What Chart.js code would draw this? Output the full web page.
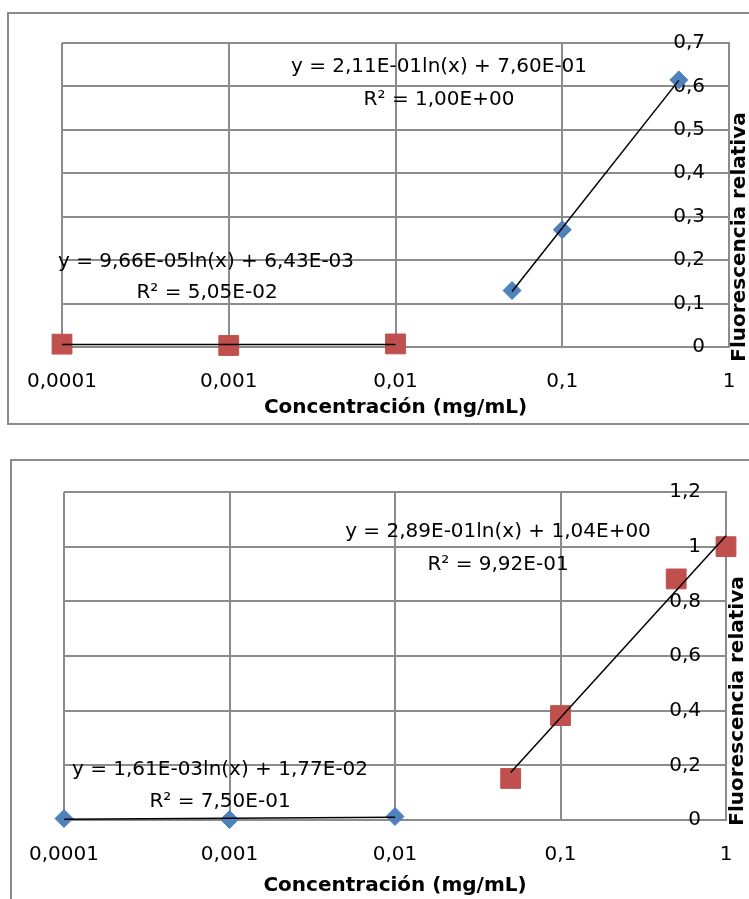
<!DOCTYPE html>
<html lang="es">
<head>
<meta charset="UTF-8">
<title>Fluorescencia relativa</title>
<script src="https://cdn.jsdelivr.net/npm/chart.js@4.4.0/dist/chart.umd.min.js"></script>
<style>
    body { margin: 0; width: 749px; height: 899px; overflow: hidden; background: #fff; position: relative; }
    .box { position: absolute; border: 2px solid #8a8a8a; box-sizing: border-box; }
    canvas { position: absolute; left: 0; }
</style>
</head>
<body>
<div class="box" style="left:7px;top:12px;width:800px;height:413px"></div>
<div class="box" style="left:10px;top:459px;width:800px;height:600px"></div>
<canvas id="chart1" width="749" height="440" style="top:0"></canvas>
<canvas id="chart2" width="749" height="449" style="top:450px"></canvas>
<script>
// ejes
const xTicks = [0.0001, 0.001, 0.01, 0.1, 1];
const xTickLabels = ['0,0001', '0,001', '0,01', '0,1', '1'];

// grafico 1
const conc1Blue = [0.05, 0.1, 0.5];
const fluor1Blue = [0.130, 0.270, 0.615];
const conc1Red = [0.0001, 0.001, 0.01];
const fluor1Red = [0.0066, 0.0035, 0.0071];
const trend1BlueX = [0.05, 0.5];
const trend1BlueY = [0.128, 0.614];
const trend1RedX = [0.0001, 0.01];
const trend1RedY = [0.0055, 0.0060];
const eq1 = ['y = 2,11E-01ln(x) + 7,60E-01', 'R² = 1,00E+00', 'y = 9,66E-05ln(x) + 6,43E-03', 'R² = 5,05E-02'];

// grafico 2
const conc2Blue = [0.0001, 0.001, 0.01];
const fluor2Blue = [0.0054, 0.0017, 0.0128];
const conc2Red = [0.05, 0.1, 0.5, 1];
const fluor2Red = [0.152, 0.382, 0.882, 1.0];
const trend2RedX = [0.05, 1];
const trend2RedY = [0.174, 1.04];
const trend2BlueX = [0.0001, 0.01];
const trend2BlueY = [0.0029, 0.0103];
const eq2 = ['y = 2,89E-01ln(x) + 1,04E+00', 'R² = 9,92E-01', 'y = 1,61E-03ln(x) + 1,77E-02', 'R² = 7,50E-01'];

const BLUE = '#4F81BD', RED = '#C0504D', GRID = '#8c8c8c';

Chart.defaults.font.family = '"DejaVu Sans"';
Chart.defaults.font.size = 20;
Chart.defaults.color = '#000';

function pts(xs, ys) {
    return xs.map((x, i) => ({x: x, y: ys[i]}));
}

// etiquetas de ecuaciones y titulo vertical
const textos = {
    id: 'textos',
    afterDraw(chart, args, opts) {
        const ctx = chart.ctx;
        ctx.save();
        ctx.fillStyle = '#000';
        ctx.textAlign = 'center';
        ctx.textBaseline = 'middle';
        ctx.font = '20px "DejaVu Sans"';
        opts.labels.forEach(l => ctx.fillText(l.text, l.x, l.y));
        ctx.font = 'bold 20px "DejaVu Sans"';
        ctx.translate(opts.titleX, opts.titleY);
        ctx.rotate(-Math.PI / 2);
        ctx.fillText('Fluorescencia relativa', 0, 0);
        ctx.restore();
    }
};

function makeChart(id, c) {
    return new Chart(document.getElementById(id), {
        type: 'scatter',
        data: {
            datasets: [
                {data: pts(c.tAx, c.tAy), showLine: true, pointRadius: 0, borderColor: '#000', borderWidth: 1.5, order: 0, clip: false},
                {data: pts(c.tBx, c.tBy), showLine: true, pointRadius: 0, borderColor: '#000', borderWidth: 1.5, order: 0, clip: false},
                {data: c.blue, pointStyle: 'rectRot', pointRadius: 9, backgroundColor: BLUE, borderColor: BLUE, borderWidth: 1, order: 1, clip: false},
                {data: c.red, pointStyle: 'rect', pointRadius: 14, backgroundColor: RED, borderColor: RED, borderWidth: 1, order: 1, clip: false}
            ]
        },
        options: {
            responsive: false,
            devicePixelRatio: 1,
            animation: false,
            layout: {padding: {left: c.left, top: c.top, right: 0, bottom: 0}},
            plugins: {
                legend: {display: false},
                tooltip: {enabled: false},
                textos: {labels: c.labels, titleX: c.titleX, titleY: c.titleY}
            },
            scales: {
                x: {
                    type: 'logarithmic',
                    min: 0.0001,
                    max: 1,
                    afterBuildTicks: s => { s.ticks = xTicks.map(v => ({value: v})); },
                    afterFit: s => { s.height = c.xh; s.paddingLeft = 0; s.paddingRight = 0; },
                    ticks: {callback: (v, i) => xTickLabels[i], padding: 23, maxRotation: 0, autoSkip: false},
                    grid: {color: GRID, lineWidth: 2, drawTicks: false},
                    border: {color: GRID, width: 2},
                    title: {display: true, text: 'Concentración (mg/mL)', font: {weight: 'bold', size: 20}, padding: {top: 0, bottom: c.titlePad}}
                },
                y: {
                    position: 'right',
                    min: 0,
                    max: c.ymax,
                    afterFit: s => { s.width = c.yw; s.paddingTop = 0; s.paddingBottom = 0; },
                    ticks: {stepSize: c.step, mirror: true, padding: c.ypad,
                        callback: v => String(+v.toFixed(1)).replace('.', ',')},
                    grid: {color: GRID, lineWidth: 2, drawTicks: false},
                    border: {color: GRID, width: 2}
                }
            }
        },
        plugins: [textos]
    });
}

makeChart('chart1', {
    blue: pts(conc1Blue, fluor1Blue), red: pts(conc1Red, fluor1Red),
    tAx: trend1BlueX, tAy: trend1BlueY, tBx: trend1RedX, tBy: trend1RedY,
    left: 62, top: 43, xh: 93, yw: 20, ypad: -24, titlePad: 20, ymax: 0.7, step: 0.1,
    labels: [
        {text: eq1[0], x: 439, y: 67}, {text: eq1[1], x: 439, y: 100},
        {text: eq1[2], x: 206, y: 262}, {text: eq1[3], x: 207, y: 293}
    ],
    titleX: 740, titleY: 237
});

makeChart('chart2', {
    blue: pts(conc2Blue, fluor2Blue), red: pts(conc2Red, fluor2Red),
    tAx: trend2RedX, tAy: trend2RedY, tBx: trend2BlueX, tBy: trend2BlueY,
    left: 64, top: 42, xh: 79, yw: 23, ypad: -25, titlePad: 1, ymax: 1.2, step: 0.2,
    labels: [
        {text: eq2[0], x: 498, y: 82}, {text: eq2[1], x: 498, y: 115},
        {text: eq2[2], x: 220, y: 320}, {text: eq2[3], x: 220, y: 352}
    ],
    titleX: 738, titleY: 251
});
</script>
</body>
</html>
